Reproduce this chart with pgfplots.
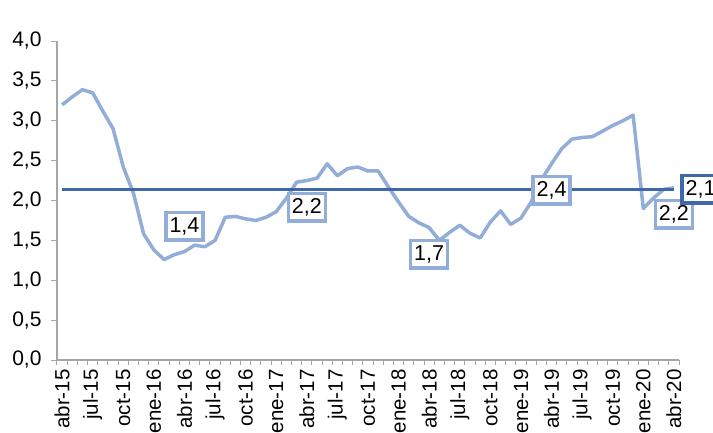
\documentclass[border=0pt]{standalone}
\usepackage{fontspec}
\setmainfont{Liberation Sans}
\usepackage{pgfplots}
\pgfplotsset{compat=1.18}
\definecolor{serie}{RGB}{146,174,216}
\definecolor{media}{RGB}{64,104,168}
\definecolor{eje}{RGB}{166,166,166}
\tikzset{
  lbl/.style={draw=serie, line width=3.5pt, fill=white, text=black,
    font=\fontsize{21.5}{23}\selectfont, inner sep=0pt,
    minimum width=37pt, minimum height=27.5pt}
}
\begin{document}
\begin{tikzpicture}
\begin{axis}[
  scale only axis, width=622pt, height=319pt,
  xmin=-0.5, xmax=60.5, ymin=0, ymax=4,
  axis x line*=bottom, axis y line*=left,
  axis line style={eje, line width=1.2pt},
  xtick={0,3,...,60},
  xticklabels={abr-15,jul-15,oct-15,ene-16,abr-16,jul-16,oct-16,ene-17,abr-17,jul-17,oct-17,ene-18,abr-18,jul-18,oct-18,ene-19,abr-19,jul-19,oct-19,ene-20,abr-20},
  minor xtick={-0.5,0.5,...,60.5},
  major x tick style={draw=none},
  minor x tick style={eje, line width=1pt},
  minor tick length=5pt,
  ytick={0,0.5,...,4},
  major y tick style={eje, line width=1pt},
  major tick length=6pt,
  tick align=outside,
  x tick label style={rotate=90, anchor=east, font=\fontsize{20.5}{22}\selectfont},
  y tick label style={font=\fontsize{21}{23}\selectfont, xshift=-6pt},
  /pgf/number format/.cd, use comma, fixed, fixed zerofill, precision=1, assume math mode=true,
]
% serie mensual
\addplot[serie, line width=3.5pt, line join=round] coordinates {
(0,3.20) (1,3.30) (2,3.39) (3,3.35) (4,3.12) (5,2.90) (6,2.42) (7,2.09) (8,1.58) (9,1.38)
(10,1.26) (11,1.32) (12,1.36) (13,1.44) (14,1.42) (15,1.50) (16,1.79) (17,1.80) (18,1.77) (19,1.75)
(20,1.79) (21,1.86) (22,2.03) (23,2.23) (24,2.25) (25,2.28) (26,2.46) (27,2.31) (28,2.40) (29,2.42)
(30,2.37) (31,2.37) (32,2.17) (33,1.98) (34,1.80) (35,1.72) (36,1.66) (37,1.50) (38,1.60) (39,1.69)
(40,1.59) (41,1.53) (42,1.73) (43,1.87) (44,1.70) (45,1.78) (46,1.98) (47,2.26) (48,2.46) (49,2.65)
(50,2.77) (51,2.79) (52,2.80) (53,2.87) (54,2.94) (55,3.00) (56,3.07) (57,1.90) (58,2.03) (59,2.14)
(60,2.16)};
% promedio
\addplot[media, line width=3pt] coordinates {(0,2.14) (60,2.14)};
% etiquetas
\addplot[draw=none, point meta=explicit symbolic, nodes near coords,
  nodes near coords style={lbl, anchor=south, yshift=10pt}] coordinates {(12,1.36) [1,4]};
\addplot[draw=none, point meta=explicit symbolic, nodes near coords,
  nodes near coords style={lbl, anchor=north, yshift=-11pt}] coordinates {
  (24,2.25) [2,2] (36,1.66) [1,7] (48,2.46) [2,4] (60,2.16) [2,2]};
\addplot[draw=none, point meta=explicit symbolic, nodes near coords,
  nodes near coords style={lbl, draw=media, anchor=west, xshift=6.5pt, yshift=0pt}] coordinates {(60,2.14) [2,1]};
\end{axis}
\pgfresetboundingbox
\path (-57pt,-72pt) rectangle (656pt,360pt);
\end{tikzpicture}
\end{document}
